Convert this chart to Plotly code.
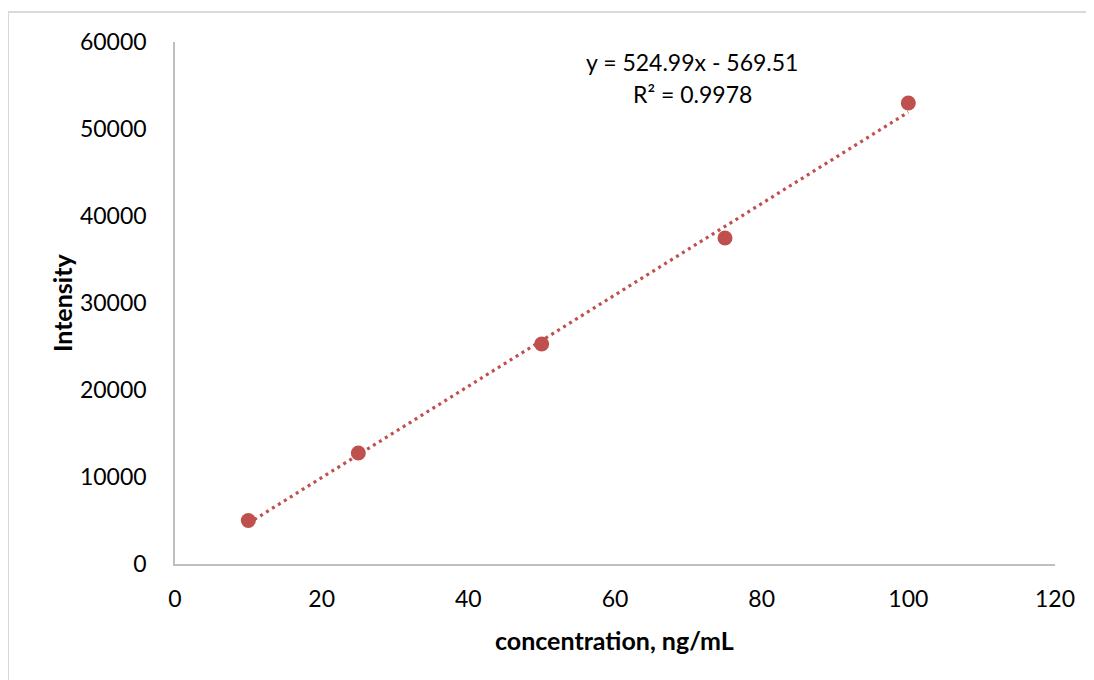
import plotly.graph_objects as go
import numpy as np

concentration = [10, 25, 50, 75, 100]
intensity = [5000, 12760, 25290, 37470, 52990]
slope = 524.99
intercept = -569.51
r_squared = 0.9978

x_ticks = [0, 20, 40, 60, 80, 100, 120]
y_ticks = [0, 10000, 20000, 30000, 40000, 50000, 60000]

RED = "#c0504d"
FONT = "Lato"

# page body has an 8px margin; target pixel positions are in window coords
OFF = 8
W, H = 1094 - OFF, 680 - OFF
PL, PR, PT, PB = 175, 1055, 42, 564  # plot area in window px
L, R, T, B = PL - OFF, W - (PR - OFF), PT - OFF, H - (PB - OFF)

trend_x = np.array([min(concentration), max(concentration)])
trend_y = slope * trend_x + intercept

fig = go.Figure()
fig.add_trace(go.Scatter(x=trend_x, y=trend_y, mode="lines",
                         line=dict(color=RED, width=3.2, dash="3px,4px"),
                         hoverinfo="skip", showlegend=False))
fig.add_trace(go.Scatter(x=concentration, y=intensity, mode="markers",
                         marker=dict(color=RED, size=15),
                         showlegend=False))

pw = PR - PL
ph = PB - PT
def px(xp):
    return (xp - PL) / pw
def py(yp):
    return (PB - yp) / ph

fig.update_layout(
    width=W, height=H,
    margin=dict(l=L, r=R, t=T, b=B, pad=0),
    paper_bgcolor="white", plot_bgcolor="white",
    font=dict(family=FONT, size=23, color="black"),
    xaxis=dict(range=[0, 120], tickvals=x_ticks, showgrid=False, zeroline=False,
               showline=True, linecolor="#bfbfbf", linewidth=1.5,
               ticks="", ticklabelstandoff=14),
    yaxis=dict(range=[0, 60000], tickvals=y_ticks, tickformat="d",
               showgrid=False, zeroline=False,
               showline=True, linecolor="#bfbfbf", linewidth=1.5,
               ticks="", ticklabelstandoff=22),
    annotations=[
        dict(text=f"y = {slope}x - {abs(intercept)}", xref="paper", yref="paper",
             x=px(692), y=py(62), showarrow=False, font=dict(size=23),
             xanchor="center", yanchor="middle"),
        dict(text=f"R² = {r_squared}", xref="paper", yref="paper",
             x=px(692), y=py(94), showarrow=False, font=dict(size=23),
             xanchor="center", yanchor="middle"),
        dict(text="<b>concentration, ng/mL</b>", xref="paper", yref="paper",
             x=px(614), y=py(640), showarrow=False, font=dict(size=25),
             xanchor="center", yanchor="middle"),
        dict(text="<b>Intensity</b>", xref="paper", yref="paper",
             x=px(62), y=py(303), showarrow=False, font=dict(size=25),
             textangle=-90, xanchor="center", yanchor="middle"),
    ],
    shapes=[
        dict(type="rect", xref="paper", yref="paper",
             x0=px(8), x1=px(1110), y0=py(700), y1=py(12),
             line=dict(color="#d9d9d9", width=2), layer="below"),
    ],
)

fig.write_html("out.html")
